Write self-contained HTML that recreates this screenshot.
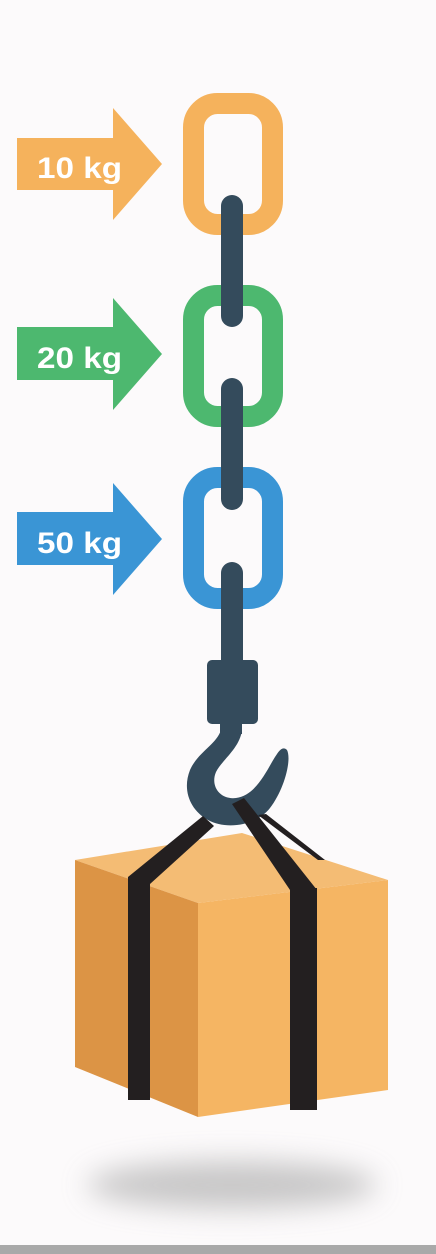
<!DOCTYPE html>
<html><head><meta charset="utf-8"><style>
html,body{margin:0;padding:0;background:#fcfafb;}
svg{display:block}
text{font-family:"Liberation Sans",sans-serif;font-weight:bold;fill:#fff;font-size:30px}
</style></head><body>
<svg width="436" height="1254" viewBox="0 0 436 1254">
<defs><filter id="blur" x="-50%" y="-200%" width="200%" height="500%"><feGaussianBlur stdDeviation="14"/></filter></defs>
<rect x="0" y="0" width="436" height="1254" fill="#fcfafb"/>
<rect x="0" y="1245" width="436" height="9" fill="#a9a9a9"/>
<ellipse cx="232" cy="1185" rx="145" ry="24" fill="#a5a5a5" opacity="0.6" filter="url(#blur)"/>
<!-- links -->
<rect x="193.5" y="103.5" width="79" height="121" rx="24" fill="none" stroke="#f5b25c" stroke-width="21"/>
<rect x="193.5" y="295.5" width="79" height="121" rx="24" fill="none" stroke="#4db86f" stroke-width="21"/>
<rect x="193.5" y="477.5" width="79" height="121" rx="24" fill="none" stroke="#3a95d5" stroke-width="21"/>
<!-- chain bars -->
<g fill="#344b5c">
<rect x="221" y="195" width="22" height="132" rx="11"/>
<rect x="221" y="378" width="22" height="132" rx="11"/>
<rect x="221" y="562" width="22" height="110" rx="11"/>
</g>
<!-- arrows -->
<g><polygon points="17,138 113,138 113,108 162,164 113,220 113,190 17,190" fill="#f5b25c"/><text x="37" y="178" textLength="85" lengthAdjust="spacingAndGlyphs">10 kg</text></g>
<g><polygon points="17,327 113,327 113,298 162,354 113,410 113,380 17,380" fill="#4db86f"/><text x="37" y="368" textLength="85" lengthAdjust="spacingAndGlyphs">20 kg</text></g>
<g><polygon points="17,512 113,512 113,483 162,539 113,595 113,565 17,565" fill="#3a95d5"/><text x="37" y="553" textLength="85" lengthAdjust="spacingAndGlyphs">50 kg</text></g>
<!-- hook -->
<g fill="#344b5c">
<rect x="207" y="660" width="51" height="64" rx="5"/>
<rect x="220" y="720" width="22" height="14"/>
<path d="M221,730 L242,730 C240,748 222,760 216,772 C210,786 220,800 236,798 C252,796 262,780 272,762 C278,752 282,745 287,750 C292,760 284,790 270,808 C256,826 226,830 208,820 C190,810 182,790 190,770 C198,752 216,745 221,730 Z"/>
</g>
<!-- box -->
<g>
<polygon points="75,860 242,833 388,880 198,903" fill="#f4bc74"/>
<polygon points="75,860 198,903 198,1117 75,1067" fill="#dc9445"/>
<polygon points="198,903 388,880 388,1090 198,1117" fill="#f5b563"/>
</g>
<g fill="#231f20">
<polygon points="128,877 203,816 214,826 150,884"/>
<rect x="128" y="877" width="22" height="223"/>
<polygon points="232,804 244,798 317,890 290,890"/>
<rect x="290" y="888" width="27" height="222"/>
<polygon points="258,815 266,814 325,860 318,860"/>
</g>
</svg>
</body></html>
